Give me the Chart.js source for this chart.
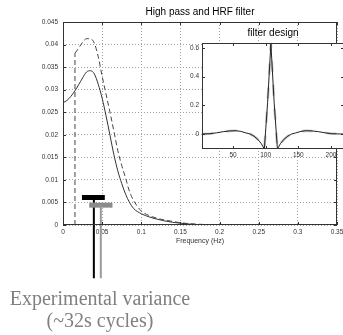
<!DOCTYPE html>
<html>
<head>
<meta charset="utf-8">
<script src="https://cdn.jsdelivr.net/npm/chart.js@4.4.1/dist/chart.umd.min.js"></script>
<style>
  html, body { margin: 0; padding: 0; background: #fff; }
  #wrap { position: relative; width: 343px; height: 335px; overflow: hidden; }
  #main { position: absolute; left: 0; top: 0; }
  #inset { position: absolute; left: 185px; top: 24px; }
  .note { position: absolute; left: 0; top: 287px; width: 200px; text-align: center;
          font-family: 'Liberation Serif', 'Times New Roman', serif; font-size: 20px;
          line-height: 22px; color: #808080; }
</style>
</head>
<body>
<div id="wrap">
  <canvas id="main" width="343" height="335"></canvas>
  <canvas id="inset" width="160" height="140"></canvas>
  <div class="note">Experimental variance<br>(~32s cycles)</div>
</div>
<script>
// main plot: power vs frequency
var freq = [0, 0.005, 0.01, 0.015, 0.02, 0.025, 0.03, 0.035, 0.04, 0.045, 0.05, 0.055, 0.06,
            0.065, 0.07, 0.075, 0.08, 0.085, 0.09, 0.1, 0.11, 0.12, 0.13, 0.14, 0.15, 0.17, 0.2];
var hrfPower = [0.0271, 0.0276, 0.0285, 0.0297, 0.0311, 0.0326, 0.0339, 0.0342, 0.0335, 0.0312, 0.0281, 0.0242, 0.0199,
                0.0156, 0.0120, 0.0092, 0.0068, 0.0050, 0.0037, 0.0025, 0.0018, 0.0013, 0.0009, 0.0006, 0.0004, 0.0001, 0];

var cutoff = 0.0153;
var filtFreq = [0.0153, 0.02, 0.025, 0.03, 0.035, 0.04, 0.045, 0.05, 0.055, 0.06, 0.065, 0.07,
                0.075, 0.08, 0.085, 0.09, 0.1, 0.11, 0.12, 0.13, 0.14, 0.15, 0.17, 0.2];
var filtPower = [0.0381, 0.0392, 0.0405, 0.0413, 0.0413, 0.0403, 0.0373, 0.0330, 0.0290, 0.0250, 0.0208, 0.0165,
                 0.0132, 0.0104, 0.0074, 0.0055, 0.0031, 0.0021, 0.0015, 0.0011, 0.0008, 0.0005, 0.0002, 0];

// experimental variance markers (black, grey)
var barFrom = [0.0242, 0.0335];
var barTo = [0.0534, 0.0632];
var barLevel = [0.0061, 0.0044];
var stemAt = [0.0394, 0.0483];
var stemEnd = -0.0118;

var xTicks = [0, 0.05, 0.1, 0.15, 0.2, 0.25, 0.3, 0.35];
var yTicks = [0, 0.005, 0.01, 0.015, 0.02, 0.025, 0.03, 0.035, 0.04, 0.045];

// inset: filter kernel vs time
var lagT = [3, 15, 25, 35, 45, 54, 62, 70, 76, 82, 88, 93, 98, 103, 108, 113, 118,
            123, 128, 134, 140, 146, 154, 162, 171, 181, 191, 201, 213, 220];
var kernel = [0, 0.002, 0.008, 0.016, 0.021, 0.023, 0.018, 0.007, 0, -0.015, -0.038, -0.065, -0.105, 0.22, 0.63, 0.22, -0.105,
              -0.065, -0.038, -0.015, 0, 0.007, 0.018, 0.023, 0.021, 0.016, 0.008, 0.002, 0, 0];
var insetXTicks = [50, 100, 150, 200];
var insetYTicks = [0, 0.2, 0.4, 0.6];

function pts(xs, ys) {
  return xs.map(function(x, i) { return {x: x, y: ys[i]}; });
}
function fmt(v) { return String(+(+v).toFixed(3)); }

var framePlugin = {
  id: 'frame',
  beforeDraw: function(chart, args, opts) {
    if (!opts.fill) return;
    var a = chart.chartArea, ctx = chart.ctx;
    ctx.save();
    ctx.fillStyle = opts.fill;
    ctx.fillRect(a.left, a.top, a.right - a.left, a.bottom - a.top);
    ctx.restore();
  },
  afterDraw: function(chart, args, opts) {
    var a = chart.chartArea, ctx = chart.ctx;
    var xs = chart.scales.x, ys = chart.scales.y, t = 3;
    ctx.save();
    ctx.strokeStyle = '#333';
    ctx.lineWidth = 1;
    ctx.beginPath();
    xs.ticks.forEach(function(tk) {
      var px = Math.round(xs.getPixelForValue(tk.value)) + 0.5;
      ctx.moveTo(px, a.bottom); ctx.lineTo(px, a.bottom - t);
      ctx.moveTo(px, a.top); ctx.lineTo(px, a.top + t);
    });
    ys.ticks.forEach(function(tk) {
      var py = Math.round(ys.getPixelForValue(tk.value)) + 0.5;
      ctx.moveTo(a.left, py); ctx.lineTo(a.left + t, py);
      ctx.moveTo(a.right, py); ctx.lineTo(a.right - t, py);
    });
    ctx.stroke();
    ctx.strokeRect(Math.round(a.left) + 0.5, Math.round(a.top) + 0.5,
                   Math.round(a.right - a.left) - 1, Math.round(a.bottom - a.top) - 1);
    ctx.restore();
  }
};

// keep the plot box where it is, even if an edge label hangs over
function noOverhang(s) {
  s.paddingLeft = 0; s.paddingRight = 0; s.paddingTop = 0; s.paddingBottom = 0;
}

var tickFont = {family: 'Liberation Sans', size: 6.5};
var gridStyle = {color: '#a0a0a0', lineWidth: 1, drawTicks: false};

new Chart(document.getElementById('main'), {
  type: 'line',
  data: {
    datasets: [{
      data: pts(freq, hrfPower),
      borderColor: '#333', borderWidth: 1, cubicInterpolationMode: 'monotone', order: 6
    }, {
      data: pts(filtFreq, filtPower),
      borderColor: '#444', borderWidth: 1, borderDash: [5, 3], cubicInterpolationMode: 'monotone', order: 5
    }, {
      data: pts([cutoff, cutoff], [0, filtPower[0]]),
      borderColor: '#444', borderWidth: 1, borderDash: [5, 3], order: 5
    }, {
      data: pts([stemAt[0], stemAt[0]], [barLevel[0], stemEnd]),
      borderColor: '#000', borderWidth: 2, clip: false, order: 4
    }, {
      data: pts([barFrom[0], barTo[0]], [barLevel[0], barLevel[0]]),
      borderColor: '#000', borderWidth: 5, borderCapStyle: 'butt', order: 3
    }, {
      data: pts([barFrom[1], barTo[1]], [barLevel[1], barLevel[1]]),
      borderColor: '#8a8a8a', borderWidth: 5, borderCapStyle: 'butt', order: 2
    }, {
      data: pts([stemAt[1], stemAt[1]], [barLevel[1], stemEnd]),
      borderColor: '#9a9a9a', borderWidth: 2, clip: false, order: 1
    }]
  },
  options: {
    responsive: false,
    animation: false,
    layout: {padding: {left: 0, right: 6, top: 0, bottom: 88}},
    elements: {point: {radius: 0}, line: {tension: 0, fill: false}},
    plugins: {
      legend: {display: false},
      tooltip: {enabled: false},
      title: {
        display: true, text: 'High pass and HRF filter', fullSize: false,
        color: '#000', font: {family: 'Liberation Sans', size: 10, weight: 'normal'},
        padding: {top: 6, bottom: 4}
      },
      frame: {}
    },
    scales: {
      x: {
        type: 'linear', min: 0, max: 0.35,
        afterBuildTicks: function(s) { s.ticks = xTicks.map(function(v) { return {value: v}; }); },
        afterFit: function(s) { s.height = 22; noOverhang(s); },
        ticks: {font: tickFont, color: '#333', padding: 3, autoSkip: false, maxRotation: 0, callback: fmt},
        grid: gridStyle,
        border: {display: false, dash: [1, 2]},
        title: {display: true, text: 'Frequency (Hz)', color: '#333',
                font: {family: 'Liberation Sans', size: 7}, padding: {top: 0, bottom: 2}}
      },
      y: {
        type: 'linear', min: 0, max: 0.045,
        afterBuildTicks: function(s) { s.ticks = yTicks.map(function(v) { return {value: v}; }); },
        afterFit: function(s) { s.width = 63; noOverhang(s); },
        ticks: {font: tickFont, color: '#333', padding: 5, autoSkip: false, callback: fmt},
        grid: gridStyle,
        border: {display: false, dash: [1, 2]}
      }
    }
  },
  plugins: [framePlugin]
});

new Chart(document.getElementById('inset'), {
  type: 'line',
  data: {
    datasets: [{
      data: pts(lagT, kernel),
      borderColor: '#222', borderWidth: 1, order: 1
    }, {
      data: pts(lagT, kernel),
      borderColor: '#c4c4c4', borderWidth: 2.5, borderDash: [11, 13], order: 2
    }]
  },
  options: {
    responsive: false,
    animation: false,
    layout: {padding: {left: 0, right: 1, top: 0, bottom: 3}},
    elements: {point: {radius: 0}, line: {tension: 0, fill: false}},
    plugins: {
      legend: {display: false},
      tooltip: {enabled: false},
      title: {
        display: true, text: 'filter design', fullSize: false,
        color: '#000', font: {family: 'Liberation Sans', size: 10, weight: 'normal'},
        padding: {top: 3, bottom: 4}
      },
      frame: {fill: '#fff'}
    },
    scales: {
      x: {
        type: 'linear', min: 2.5, max: 220,
        afterBuildTicks: function(s) { s.ticks = insetXTicks.map(function(v) { return {value: v}; }); },
        afterFit: function(s) { s.height = 12; noOverhang(s); },
        ticks: {font: tickFont, color: '#333', padding: 2, autoSkip: false, maxRotation: 0},
        grid: {display: false, drawTicks: false},
        border: {display: false}
      },
      y: {
        type: 'linear', min: -0.105, max: 0.635,
        afterBuildTicks: function(s) { s.ticks = insetYTicks.map(function(v) { return {value: v}; }); },
        afterFit: function(s) { s.width = 17; noOverhang(s); },
        ticks: {font: tickFont, color: '#333', padding: 3, autoSkip: false, callback: fmt},
        grid: {display: false, drawTicks: false},
        border: {display: false}
      }
    }
  },
  plugins: [framePlugin]
});
</script>
</body>
</html>
